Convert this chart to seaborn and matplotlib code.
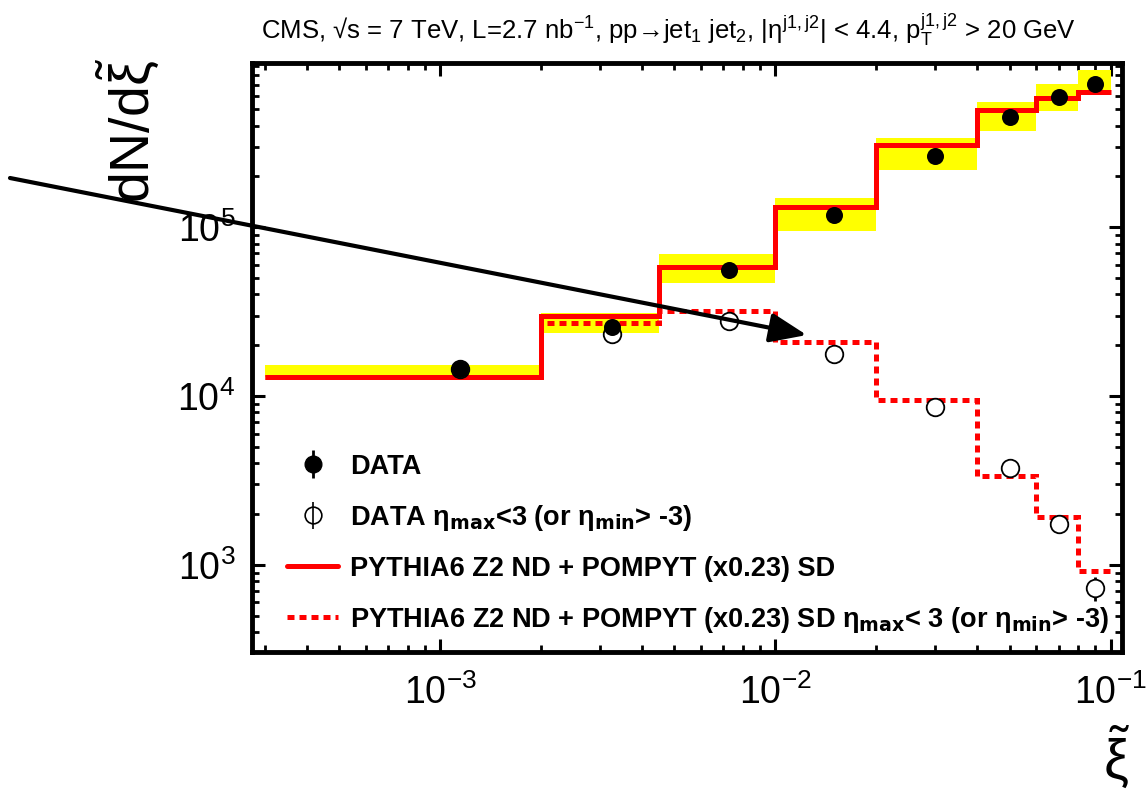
import numpy as np
import pandas as pd
import seaborn as sns
import matplotlib.pyplot as plt

# bin edges in xi~ and the bin centres used for the points
edges = [0.0003, 0.002, 0.0045, 0.01, 0.02, 0.04, 0.06, 0.08, 0.1]
xi_centres = [0.00115, 0.00325, 0.00725, 0.015, 0.03, 0.05, 0.07, 0.09]

# data, all events
data_all = [1.45e4, 2.56e4, 5.58e4, 1.18e5, 2.64e5, 4.5e5, 5.95e5, 7.1e5]
data_all_err = [800, 1000, 1800, 3500, 8000, 1.4e4, 1.8e4, 2.2e4]
syst_lo = [1.29e4, 2.36e4, 4.66e4, 9.5e4, 2.17e5, 3.7e5, 4.9e5, 6.1e5]
syst_hi = [1.52e4, 3.1e4, 6.9e4, 1.49e5, 3.4e5, 5.5e5, 7.1e5, 8.5e5]

# data with rapidity gap requirement
data_gap = [1.45e4, 2.33e4, 2.78e4, 1.78e4, 8.6e3, 3.75e3, 1.75e3, 731]
data_gap_err = [800, 1000, 1000, 700, 400, 200, 120, 120]

# MC predictions
mc_all = [1.29e4, 2.97e4, 5.8e4, 1.31e5, 3.06e5, 4.92e5, 5.8e5, 6.3e5]
mc_gap = [1.29e4, 2.7e4, 3.18e4, 2.08e4, 9.5e3, 3.36e3, 1.92e3, 922]

df = pd.DataFrame({"xi": xi_centres, "all": data_all, "gap": data_gap})

sns.set_style("ticks")
plt.rcParams["font.family"] = ["Liberation Sans", "DejaVu Sans"]
plt.rcParams["mathtext.default"] = "regular"
plt.rcParams["axes.unicode_minus"] = False
plt.rcParams["text.color"] = "black"
plt.rcParams["xtick.color"] = "black"
plt.rcParams["ytick.color"] = "black"

fig = plt.figure(figsize=(11.47, 7.99), dpi=100)
ax = fig.add_axes([252 / 1147, 1 - 652 / 799, 870 / 1147, 589 / 799])
ax.set_xscale("log")
ax.set_yscale("log")

# systematic bands
lo = np.array(syst_lo)
hi = np.array(syst_hi)
ax.bar(edges[:-1], hi - lo, width=np.diff(edges), bottom=lo, align="edge",
       color="#ffff00", linewidth=0, zorder=1)

# MC histograms
ax.stairs(mc_all, edges, baseline=None, color="red", lw=3.6, zorder=2)
ax.stairs(mc_gap, edges, baseline=None, color="red", lw=3.6,
          linestyle=(0, (1.4, 1.0)), zorder=2)

# error bars + points
ax.errorbar(xi_centres, data_gap, yerr=data_gap_err, fmt="none", ecolor="black",
            elinewidth=2, capsize=0, zorder=3)
sns.scatterplot(data=df, x="xi", y="gap", marker="o", s=160, facecolor="white",
                edgecolor="black", linewidth=1.3, zorder=4, ax=ax)
ax.errorbar(xi_centres, data_all, yerr=data_all_err, fmt="none", ecolor="black",
            elinewidth=2, capsize=0, zorder=5)
sns.scatterplot(data=df, x="xi", y="all", marker="o", s=150, color="black",
                edgecolor="black", linewidth=0, zorder=6, ax=ax)

ax.set_xlim(2.75e-4, 0.108)
ax.set_ylim(305, 9.4e5)
ax.set_xlabel("")
ax.set_ylabel("")

# legend handles
h1 = ax.errorbar([], [], yerr=[], fmt="o", color="black", ms=12, elinewidth=2, capsize=0)
h2 = ax.errorbar([], [], yerr=[], fmt="o", mfc="none", mec="black", ecolor="black",
                 ms=12, mew=1.2, elinewidth=1.2, capsize=0)
h3, = ax.plot([], [], color="red", lw=3.6)
h4, = ax.plot([], [], color="red", lw=3.6, linestyle=(0, (1.4, 1.0)))
labels = [
    "DATA",
    r"DATA η$_{\mathbf{max}}$<3 (or η$_{\mathbf{min}}$> -3)",
    "PYTHIA6 Z2 ND + POMPYT (x0.23) SD",
    r"PYTHIA6 Z2 ND + POMPYT (x0.23) SD η$_{\mathbf{max}}$< 3 (or η$_{\mathbf{min}}$> -3)",
]
ax.legend([h1, h2, h3, h4], labels, loc="upper left", bbox_to_anchor=(0.04, 0.337),
          frameon=False, prop={"weight": "bold", "size": 19.5}, handlelength=1.9,
          handletextpad=0.45, labelspacing=0.85, borderpad=0, borderaxespad=0)

# frame and ticks
for s in ax.spines.values():
    s.set_linewidth(3.5)
    s.set_color("black")
ax.tick_params(which="both", direction="in", top=True, right=True,
               bottom=True, left=True)
ax.tick_params(which="major", length=9.5, width=2.2, labelsize=27, pad=12)
ax.tick_params(axis="x", which="major", pad=16)
ax.tick_params(which="minor", length=5, width=2)

# arrow
ax.annotate("", xy=(0.0124, 2.3e4), xycoords="data",
            xytext=(10 / 1147, 1 - 178 / 799), textcoords="figure fraction",
            arrowprops=dict(arrowstyle="-|>,head_length=0.75,head_width=0.3",
                            color="black", lw=3, mutation_scale=30,
                            shrinkA=0, shrinkB=0),
            annotation_clip=False, zorder=7)

# texts
fig.text(668 / 1147, 1 - 39 / 799,
         "CMS, √s = 7 TeV, L=2.7 nb$^{-1}$, pp→jet$_{1}$ jet$_{2}$, "
         "|η$^{j1,j2}$| < 4.4, p$_{T}^{j1,j2}$ > 20 GeV",
         ha="center", va="baseline", fontsize=18.5)
fig.text(128 / 1147, 1 - 58 / 799, r"dN/d$\tilde{\xi}$", rotation=90,
         ha="center", va="top", fontsize=40)
fig.text(1117 / 1147, 1 - 757 / 799, r"$\tilde{\xi}$", ha="center", va="center",
         fontsize=40)

fig.savefig("out.png", dpi=100)
